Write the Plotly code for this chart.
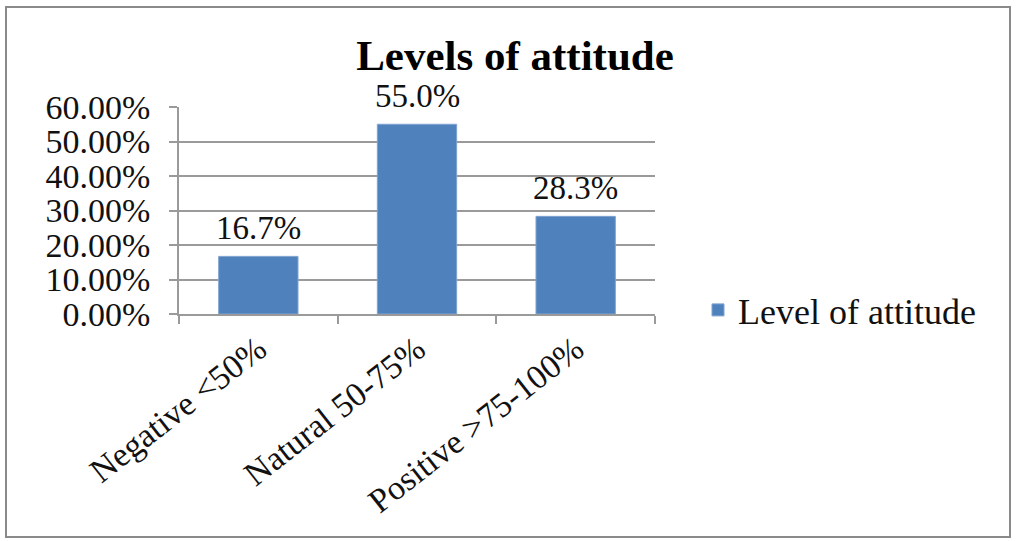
import plotly.graph_objects as go

categories = ["Negative <50%", "Natural 50-75%", "Positive >75-100%"]
shares = [0.167, 0.550, 0.283]
y_ticks = [0.0, 0.1, 0.2, 0.3, 0.4, 0.5, 0.6]
series_name = "Level of attitude"
title_text = "Levels of attitude"

BAR = "#4F81BD"
GRID = "#9A9A9A"
FONT = "Liberation Serif, Times New Roman, serif"

# plot area in pixels
W, H = 1016, 541
L, R, T, B = 179, 655, 107, 314

fig = go.Figure()
fig.add_trace(go.Bar(
    x=categories, y=shares, name=series_name,
    marker=dict(color=BAR, line=dict(color="#7FA3D0", width=1)),
    width=0.5, showlegend=True,
))

# value labels above the bars
for c, v in zip(categories, shares):
    fig.add_annotation(x=c, y=v, text=f"{v*100:.1f}%", showarrow=False,
                       yanchor="bottom", yshift=8,
                       font=dict(family=FONT, size=33, color="#111"))

pw, ph = R - L, B - T
def px(x):
    return (x - L) / pw
def py(y):
    return (B - y) / ph

# outer chart frame
fig.add_shape(type="rect", xref="paper", yref="paper",
              x0=px(6), x1=px(1010), y0=py(537), y1=py(7),
              line=dict(color="#8A8A8A", width=2), layer="below")

fig.update_layout(
    width=W, height=H,
    margin=dict(l=L, r=W - R, t=T, b=H - B, pad=0),
    paper_bgcolor="white", plot_bgcolor="white",
    title=dict(text=f"<b>{title_text}</b>", x=(515) / W, xanchor="center",
               y=1 - 55 / H, yanchor="middle",
               font=dict(family=FONT, size=43, color="#000")),
    font=dict(family=FONT, size=33, color="#111"),
    bargap=0.5,
    legend=dict(x=px(698), y=py(310), xanchor="left", yanchor="middle",
                font=dict(family=FONT, size=36, color="#111"),
                bgcolor="rgba(0,0,0,0)", itemwidth=30, tracegroupgap=0),
    xaxis=dict(type="category", tickangle=-38, showgrid=False,
               showline=True, linecolor=GRID, linewidth=1.5,
               ticks="outside", tickson="boundaries", ticklen=8,
               tickcolor=GRID, tickwidth=1.5,
               tickfont=dict(family=FONT, size=34, color="#111")),
    yaxis=dict(range=[0, 0.6], tickvals=y_ticks, tickformat=".2%",
               showgrid=True, gridcolor=GRID, gridwidth=1.5,
               showline=True, linecolor=GRID, linewidth=1.5,
               ticks="outside", ticklen=8, tickcolor=GRID, tickwidth=1.5,
               zeroline=False, ticklabelstandoff=12,
               tickfont=dict(family=FONT, size=34, color="#111")),
)

fig.write_html("out.html")
